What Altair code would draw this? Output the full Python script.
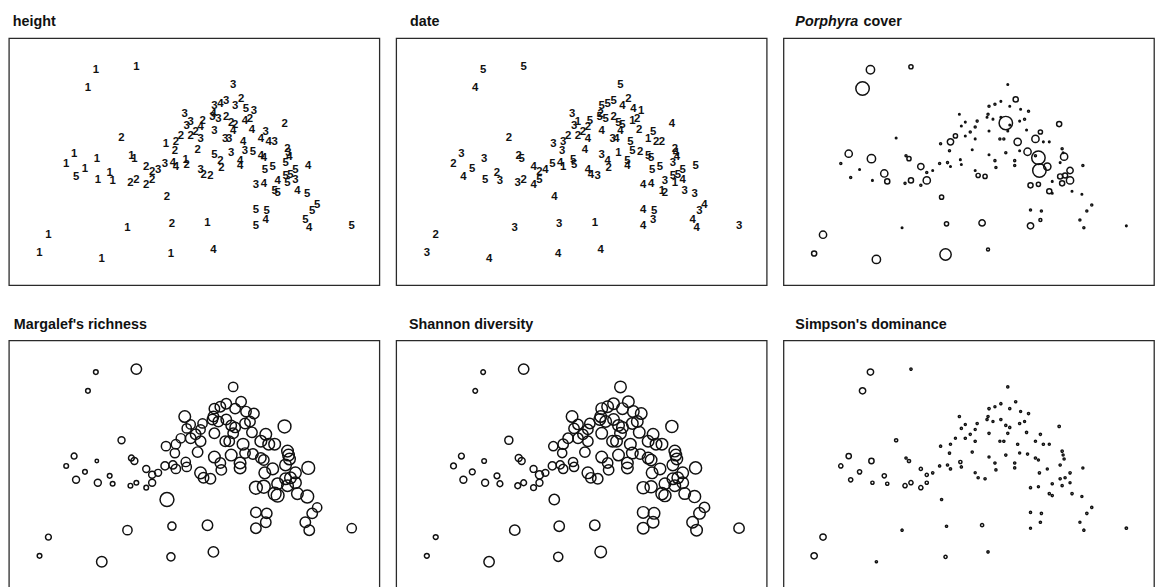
import altair as alt
import pandas as pd

# NMDS site scores (axis 1, axis 2)
nmds1 = [
    -1.01, -0.60, -1.09,
    -1.23, -1.31, -1.21, -1.12, -1.00, -0.99, -0.87, -0.84, -0.75, -0.65, -0.62, -0.50,
    -0.66, -0.60, -0.50, -0.44, -0.44, -0.38, -0.31, -0.23, -0.20, -0.10, -0.09, -0.29,
    -0.30, -0.21, -0.20, -0.15, -0.11, -0.09, -0.05, -0.05, 0.00, 0.05, 0.05, 0.07, 0.02,
    0.19, 0.05, 0.08, 0.15, 0.19, 0.25, 0.26, 0.36, 0.30, 0.34, 0.38, 0.40,
    0.38, 0.19, 0.25, 0.31, 0.40, 0.46, 0.51, 0.59, 0.18, 0.17, 0.23, 0.31, 0.36, 0.50, 0.55, 0.57,
    0.48, 0.50, 0.58, 0.66, 0.69, 0.45, 0.45, 0.70, 0.78, 0.71, 0.66, 0.74, 0.80, 0.90, 0.93,
    0.94, 0.95, 0.91, 1.14, 1.01, 0.96, 0.91, 1.01, 0.83, 0.93, 0.61, 0.69, 0.80, 0.83, 1.03,
    1.13, 1.23, 1.18, 1.11, 1.15, 0.61, 0.72, 0.61, 0.71, 1.58,
    -1.49, -1.58, -0.69, -0.24, 0.12, -0.95, -0.25, 0.18,
]
nmds2 = [
    0.93, 0.96, 0.74,
    0.08, -0.02, -0.16, -0.08, 0.03, -0.19, -0.12, -0.20, 0.24, 0.06, 0.03, -0.05,
    -0.22, -0.19, -0.24, -0.19, -0.11, -0.09, -0.02, -0.01, -0.05, 0.02, -0.03, -0.36,
    0.18, 0.11, 0.20, 0.26, 0.48, 0.36, 0.40, 0.26, 0.30, 0.23, 0.35, 0.41, 0.12,
    0.31, -0.09, -0.14, -0.15, 0.07, 0.01, -0.06, 0.09, 0.23, 0.23, 0.31, 0.37,
    0.78, 0.56, 0.58, 0.61, 0.56, 0.63, 0.53, 0.51, 0.48, 0.45, 0.43, 0.45, 0.39, 0.41, 0.43, 0.32,
    0.20, 0.11, 0.10, 0.06, 0.04, 0.01, -0.04, -0.09, -0.05, 0.30, 0.23, 0.20, 0.20, 0.38, 0.13,
    0.09, 0.05, -0.01, -0.04, -0.09, -0.14, -0.15, -0.19, -0.20, -0.22, -0.24, -0.23, -0.30, -0.32, -0.30,
    -0.33, -0.44, -0.50, -0.59, -0.67, -0.49, -0.50, -0.65, -0.59, -0.65,
    -0.74, -0.93, -0.67, -0.63, -0.62, -0.99, -0.94, -0.89,
]

# shore height class (1 = high ... 5 = low)
height_cls = [
    1, 1, 1,
    1, 1, 5, 1, 1, 1, 1, 1, 2, 1, 1, 2,
    2, 2, 2, 2, 2, 3, 3, 4, 4, 1, 2, 2,
    1, 2, 2, 2, 3, 3, 3, 2, 2, 3, 4, 2, 2,
    3, 3, 2, 2, 5, 2, 2, 3, 3, 3, 4, 2,
    3, 3, 4, 3, 3, 2, 5, 3, 4, 3, 3, 2, 2, 4, 2, 4,
    4, 3, 5, 4, 4, 4, 4, 5, 5, 3, 4, 4, 3, 2, 2,
    3, 4, 5, 4, 5, 5, 5, 3, 4, 5, 3, 4, 5, 5, 4,
    5, 5, 5, 5, 4, 5, 5, 5, 4, 5,
    1, 1, 1, 2, 1, 1, 1, 4,
]

# sampling date class
date_cls = [
    5, 5, 4,
    3, 2, 4, 5, 3, 5, 2, 3, 2, 2, 5, 4,
    3, 2, 4, 5, 2, 4, 5, 4, 1, 5, 5, 4,
    3, 3, 3, 2, 3, 3, 1, 2, 2, 4, 2, 5, 4,
    4, 4, 4, 3, 3, 4, 2, 1, 3, 4, 4, 5,
    5, 5, 5, 5, 4, 2, 4, 1, 2, 5, 5, 2, 5, 1, 2, 2,
    5, 5, 2, 5, 5, 5, 4, 5, 5, 5, 1, 2, 2, 4, 2,
    4, 4, 3, 5, 5, 5, 5, 4, 3, 1, 4, 4, 1, 2, 3,
    3, 4, 3, 4, 4, 4, 5, 4, 3, 3,
    2, 3, 3, 3, 1, 4, 4, 4,
]

# Porphyra percentage cover
porphyra = [
    57, 22, 100,
    48, 4, 4, 0, 57, 0, 48, 30, 0, 4, 22, 40,
    4, 30, 4, 48, 4, 0, 4, 4, 0, 0, 0, 22,
    4, 4, 40, 22, 0, 0, 0, 0, 4, 0, 4, 4, 0,
    0, 0, 22, 22, 0, 4, 4, 4, 4, 4, 0, 0,
    0, 4, 4, 0, 0, 30, 0, 4, 4, 0, 0, 0, 100, 0, 4, 0,
    48, 0, 48, 4, 100, 4, 4, 100, 48, 22, 48, 0, 0, 30, 4,
    0, 48, 0, 4, 40, 30, 30, 48, 0, 30, 30, 22, 30, 0, 0,
    0, 4, 4, 4, 4, 4, 4, 40, 12, 0,
    48, 30, 0, 22, 40, 57, 82, 12,
]

# Margalef's species richness
margalef = [
    1.00, 2.25, 1.00,
    1.25, 1.00, 1.50, 1.00, 0.75, 1.50, 1.00, 1.00, 1.50, 1.25, 1.50, 1.50,
    1.00, 1.00, 1.00, 1.50, 1.50, 1.50, 1.75, 1.75, 2.00, 2.00, 2.00, 3.00,
    2.00, 2.00, 2.00, 2.00, 2.50, 2.00, 2.00, 2.25, 2.25, 2.25, 2.00, 2.00, 2.25,
    2.25, 2.50, 2.25, 2.25, 2.50, 2.25, 2.25, 2.50, 2.25, 2.25, 2.25, 2.25,
    2.00, 2.25, 2.25, 2.25, 2.25, 2.25, 2.25, 2.25, 2.25, 2.25, 2.25, 2.25, 2.25, 2.25, 2.25, 2.25,
    2.50, 2.25, 2.25, 2.25, 2.25, 2.50, 2.50, 2.50, 2.50, 2.50, 2.50, 2.50, 2.50, 2.75, 2.50,
    2.50, 2.50, 2.50, 2.75, 2.50, 2.50, 2.50, 2.50, 2.50, 2.50, 2.75, 2.75, 2.75, 2.75, 2.50,
    2.75, 2.00, 2.25, 2.25, 2.25, 2.25, 2.25, 2.25, 2.25, 2.00,
    1.25, 1.00, 2.00, 1.75, 2.25, 2.25, 1.75, 2.25,
]

# Shannon diversity H'
shannon = [
    0.95, 2.14, 0.95,
    1.19, 1.19, 1.43, 1.19, 0.95, 1.43, 1.19, 1.19, 1.67, 1.43, 1.43, 1.43,
    1.19, 1.19, 1.19, 1.43, 1.67, 1.43, 1.67, 1.67, 1.90, 1.90, 1.90, 2.14,
    1.90, 1.90, 2.14, 2.14, 2.38, 2.14, 2.14, 2.14, 2.14, 2.14, 2.14, 2.14, 2.14,
    2.38, 2.38, 2.14, 2.14, 2.38, 2.14, 2.14, 2.38, 2.38, 2.38, 2.38, 2.38,
    2.38, 2.38, 2.38, 2.38, 2.38, 2.38, 2.38, 2.38, 2.38, 2.38, 2.38, 2.38, 2.38, 2.38, 2.38, 2.38,
    2.38, 2.38, 2.14, 2.38, 2.38, 2.38, 2.38, 2.38, 2.38, 2.38, 2.38, 2.38, 2.38, 2.50, 2.38,
    2.38, 2.38, 2.38, 2.50, 2.38, 2.38, 2.38, 2.38, 2.38, 2.38, 2.50, 2.50, 2.50, 2.50, 2.38,
    2.50, 2.14, 2.38, 2.38, 2.38, 2.38, 2.38, 2.38, 2.38, 2.14,
    1.00, 1.00, 2.14, 2.14, 2.14, 2.14, 1.90, 2.38,
]

# Simpson's dominance D
simpson = [
    0.64, 0.07, 0.64,
    0.50, 0.36, 0.36, 0.36, 0.50, 0.21, 0.36, 0.21, 0.21, 0.07, 0.21, 0.21,
    0.36, 0.36, 0.36, 0.21, 0.21, 0.07, 0.07, 0.07, 0.07, 0.21, 0.07, 0.07,
    0.07, 0.07, 0.08, 0.06, 0.07, 0.08, 0.06, 0.07, 0.08, 0.07, 0.06, 0.07, 0.08,
    0.07, 0.06, 0.08, 0.07, 0.06, 0.07, 0.08, 0.07, 0.06, 0.07, 0.08, 0.07,
    0.08, 0.07, 0.06, 0.07, 0.08, 0.07, 0.06, 0.07, 0.08, 0.07, 0.06, 0.07, 0.08, 0.07, 0.06, 0.07,
    0.07, 0.06, 0.08, 0.07, 0.06, 0.07, 0.08, 0.07, 0.06, 0.07, 0.08, 0.07, 0.06, 0.09, 0.07,
    0.06, 0.08, 0.07, 0.06, 0.07, 0.08, 0.07, 0.06, 0.07, 0.08, 0.07, 0.06, 0.07, 0.08, 0.07,
    0.06, 0.08, 0.07, 0.06, 0.07, 0.08, 0.07, 0.06, 0.07, 0.09,
    0.64, 0.64, 0.07, 0.07, 0.21, 0.07, 0.21, 0.07,
]

sites = pd.DataFrame({
    "nmds1": nmds1, "nmds2": nmds2,
    "height": height_cls, "date": date_cls,
    "porphyra": porphyra, "margalef": margalef,
    "shannon": shannon, "simpson": simpson,
})

W, H = 375, 250
INK = "#111111"
TITLE_FONT = "Liberation Sans"

x_enc = alt.X("nmds1:Q", axis=None,
              scale=alt.Scale(domain=[-1.89, 1.86], nice=False, zero=False))
y_enc = alt.Y("nmds2:Q", axis=None,
              scale=alt.Scale(domain=[-1.25, 1.25], nice=False, zero=False))
base = alt.Chart(sites).encode(x=x_enc, y=y_enc)


def title_text(text, dx, italic=False):
    return alt.Chart(pd.DataFrame({"t": [text]})).mark_text(
        font=TITLE_FONT, fontSize=14.5, fontWeight="bold",
        fontStyle="italic" if italic else "normal",
        align="left", baseline="alphabetic", color=INK,
    ).encode(text="t:N", x=alt.value(dx), y=alt.value(-12))


def label_panel(field, title, dx):
    pts = base.mark_text(font="Liberation Sans", fontSize=11.5, fontWeight="bold",
                         color=INK).encode(text=f"{field}:N")
    return alt.layer(pts, title_text(title, dx)).properties(width=W, height=H)


def bubble_panel(diam_expr, titles):
    pts = base.transform_calculate(diam=diam_expr).transform_calculate(
        area="datum.diam * datum.diam"
    ).mark_point(shape="circle", filled=False, stroke=INK, strokeWidth=1.5,
                 opacity=1).encode(size=alt.Size("area:Q", scale=None, legend=None))
    return alt.layer(pts, *titles).properties(width=W, height=H)


p_height = label_panel("height", "height", 4)
p_date = label_panel("date", "date", 14)
p_porph = bubble_panel("1.6 + 0.12 * datum.porphyra",
                       [title_text("Porphyra", 12, italic=True),
                        title_text("cover", 12 + 69)])
p_marg = bubble_panel("4.7 * datum.margalef", [title_text("Margalef's richness", 5)])
p_shan = bubble_panel("4.9 * datum.shannon", [title_text("Shannon diversity", 13)])
p_simp = bubble_panel("1.6 + 7.5 * datum.simpson", [title_text("Simpson's dominance", 12)])

chart = alt.vconcat(
    alt.hconcat(p_height, p_date, p_porph, spacing=15),
    alt.hconcat(p_marg, p_shan, p_simp, spacing=15),
    spacing=30,
).properties(
    padding={"left": 8, "top": 10, "right": 0, "bottom": 0},
    background="white",
).configure_view(stroke="#2a2a2a", strokeWidth=1.3)

chart.save("out.html", embed_options={"renderer": "svg", "actions": False})
